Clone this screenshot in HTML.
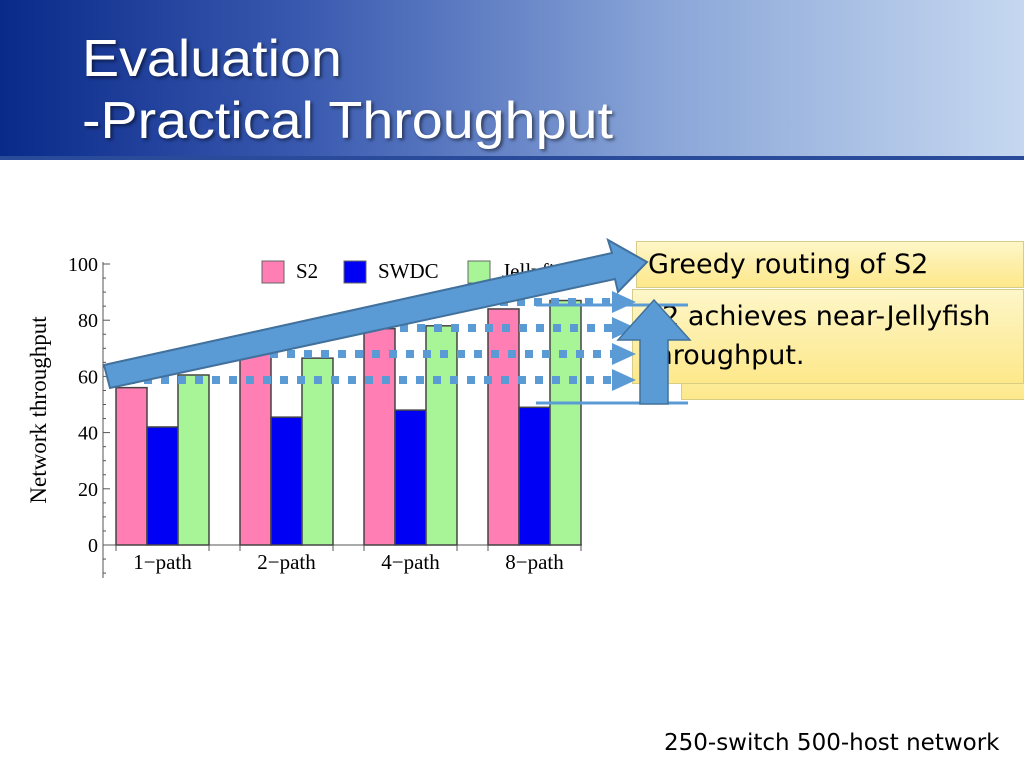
<!DOCTYPE html>
<html><head><meta charset="utf-8"><style>
body{margin:0;width:1024px;height:768px;overflow:hidden;background:#fff;font-family:"Liberation Sans",sans-serif;position:relative}
.hdr{position:absolute;left:0;top:0;width:1024px;height:156px;background:linear-gradient(90deg,#0a2a8a 0%,#3a5ab0 30%,#8aa6d8 65%,#c6d8f0 100%)}
.hl{position:absolute;left:0;top:156px;width:1024px;height:4px;background:#2a4a9a}
.title{position:absolute;left:82px;top:28px;color:#fff;font-size:52px;line-height:62px;text-shadow:2px 2px 3px rgba(0,0,0,.5);transform:scaleX(1.07);transform-origin:0 0;white-space:nowrap}
.box{position:absolute;background:linear-gradient(#fdf6c8,#fde88a);border:1px solid #d8cc88;font-family:"DejaVu Sans","Liberation Sans",sans-serif;font-size:27px;color:#000;white-space:nowrap;overflow:hidden}
.foot{position:absolute;left:664px;top:730px;font-size:23px;font-family:"DejaVu Sans","Liberation Sans",sans-serif;white-space:nowrap}
</style></head><body>
<div class="hdr"></div>
<div class="hl"></div>
<div class="title">Evaluation<br>-Practical Throughput</div>
<div class="box" style="left:681px;top:330px;width:343px;height:68px"></div>
<div class="box" style="left:632px;top:289px;width:392px;height:95px;padding:7px 0 0 12px;box-sizing:border-box;line-height:39px">S2 achieves near-Jellyfish<br>throughput.</div>
<div class="box" style="left:636px;top:241px;width:388px;height:47px;padding:7px 0 0 11px;box-sizing:border-box">Greedy routing of S2</div>
<svg id="c" width="1024" height="768" style="position:absolute;left:0;top:0"></svg>
<div class="foot">250-switch 500-host network</div>
<script>
const categories=["1\u2212path","2\u2212path","4\u2212path","8\u2212path"];
const seriesNames=["S2","SWDC","Jellyfish"];
const s2=[56,68,77,84];
const swdc=[42,45.5,48,49];
const jelly=[60.5,66.5,78,87];
const yTicks=[0,20,40,60,80,100];
const colors=["#ff7fb4","#0000f5","#a8f598"];
const svg=document.getElementById('c');const NS="http://www.w3.org/2000/svg";
function mk(t,a,p){const e=document.createElementNS(NS,t);for(const k in a)e.setAttribute(k,a[k]);(p||svg).appendChild(e);return e;}
const y=v=>545-v*2.81;const x0=116,gw=124,bw=31;
const gx=i=>x0+i*gw;
let ax=mk('line',{x1:103,y1:262,x2:103,y2:578,stroke:'#555'});


let bx=mk('line',{x1:103,y1:545,x2:582,y2:545,stroke:'#555'});


for(let v=-10;v<=100;v+=5){mk('line',{x1:103,y1:y(v),x2:v%20==0?110:106,y2:y(v),stroke:'#555'});}
yTicks.forEach(v=>{const t=mk('text',{x:98,y:y(v)+7,'text-anchor':'end','font-size':20,'font-family':'Liberation Serif'});t.textContent=v;

});
const yt=mk('text',{transform:'translate(46,410) rotate(-90)','text-anchor':'middle','font-size':23,'font-family':'Liberation Serif'});yt.textContent='Network throughput';


const data=[s2,swdc,jelly];
categories.forEach((c,i)=>{
 data.forEach((ser,j)=>{const r=mk('rect',{x:gx(i)+j*bw,y:y(ser[i]),width:bw,height:y(0)-y(ser[i]),fill:colors[j],stroke:'#444','stroke-width':1.5});
 
 });
 mk('line',{x1:gx(i),y1:545,x2:gx(i),y2:551,stroke:'#555'});mk('line',{x1:gx(i)+3*bw,y1:545,x2:gx(i)+3*bw,y2:551,stroke:'#555'});
 const t=mk('text',{x:gx(i)+1.5*bw,y:569,'text-anchor':'middle','font-size':21,'font-family':'Liberation Serif'});t.textContent=c;
 
 
});
seriesNames.forEach((n,j)=>{const lx=[262,344,468][j];mk('rect',{x:lx,y:261,width:22,height:22,fill:colors[j],stroke:'#666'});
 const t=mk('text',{x:lx+34,y:278,'font-size':21,'font-family':'Liberation Serif'});t.textContent=n;
 
 });
[s2[0],jelly[1],jelly[2],jelly[3]].forEach((v,i)=>{const yy=[380,354,328,302][i];
 const l=mk('line',{x1:[110,270,400,500][i],y1:yy,x2:612,y2:yy,stroke:'#5b9bd5','stroke-width':8,'stroke-dasharray':'8 9'});
 
 
 mk('polygon',{points:`612,${yy-11} 636,${yy} 612,${yy+11}`,fill:'#5b9bd5'});});
mk('line',{x1:536,y1:305,x2:688,y2:305,stroke:'#5b9bd5','stroke-width':3});
mk('line',{x1:536,y1:403,x2:688,y2:403,stroke:'#5b9bd5','stroke-width':3});
const up=mk('polygon',{points:'640,404 668,404 668,340 690,340 654,300 618,340 640,340',fill:'#5b9bd5',stroke:'#41719c','stroke-width':1.5});


const big=mk('polygon',{points:'104,365 612,253 608,240 647,262 618,292 615,279 110,388',fill:'#5b9bd5',stroke:'#41719c','stroke-width':2});


</script>
</body></html>
